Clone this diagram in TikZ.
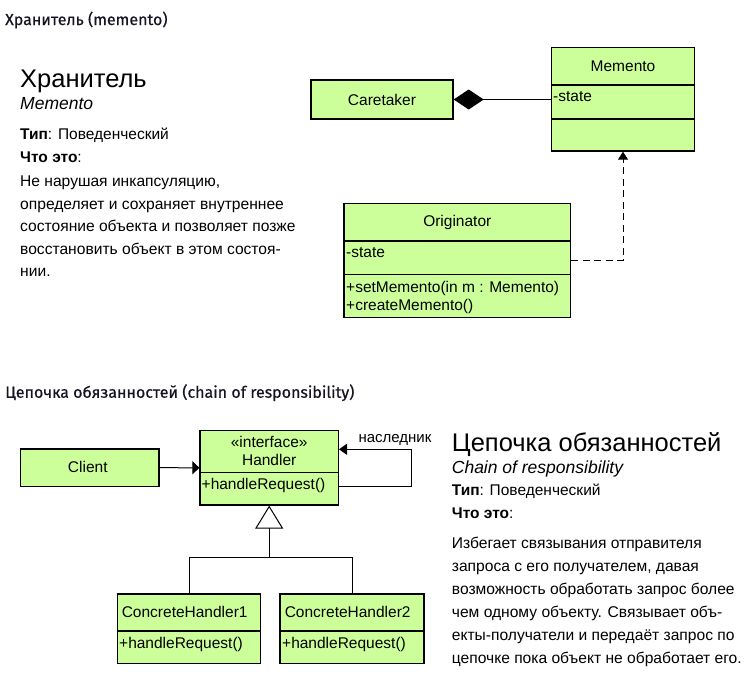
\documentclass[tikz,border=0pt]{standalone}
\usepackage{fontspec}
\setmainfont{Liberation Sans}
\newfontfamily\headfont[FakeBold=0.5]{Fira Sans}
\usetikzlibrary{arrows.meta}
\definecolor{umlgreen}{RGB}{204,255,153}
\definecolor{headink}{RGB}{20,20,35}

\begin{document}
\begin{tikzpicture}[x=1pt,y=-1pt,
		box/.style={draw=black,fill=umlgreen,line width=1.3pt,inner sep=0pt},
		divider/.style={line width=1.3pt},
		umltext/.style={font=\fontsize{15.5}{18}\selectfont,inner sep=0pt},
		heading/.style={font=\headfont\fontsize{16}{19}\selectfont,text=headink,anchor=west,inner sep=0pt},
		bigtitle/.style={font=\fontsize{25.5}{30}\selectfont,anchor=base west,inner sep=0pt},
		subtitle/.style={font=\itshape\fontsize{17.5}{21}\selectfont,anchor=base west,inner sep=0pt},
		bodytext/.style={anchor=base west,inner sep=0pt,align=left},
		link/.style={line width=1pt}]
		\useasboundingbox (0,0) rectangle (748,688);

		% Memento section
		\node[heading] (hmem) at (5,20) {Хранитель (memento)};
		\node[bigtitle] (tmem) at (20,87.3) {Хранитель};
		\node[subtitle] (smem) at (20,109.3) {Memento};
		\node[bodytext,font=\fontsize{15.5}{18}\selectfont] (kmem) at (20,139.5) {\textbf{Тип}: Поведенческий};
		\node[bodytext,font=\fontsize{15.5}{18}\selectfont] (qmem) at (20,162.5) {\textbf{Что это}:};
		% base of a multi-line node sits on its last line
		\node[bodytext,font=\fontsize{15.6}{22.6}\selectfont] (dmem) at (20,276.9) {Не нарушая инкапсуляцию,\\
				определяет и сохраняет внутреннее\\
				состояние объекта и позволяет позже\\
				восстановить объект в этом состоя-\\
				нии.};

		\node[box,minimum width=142,minimum height=39] (care) at (382,99.5) {};
		\node[box,minimum width=142.6,minimum height=103.7] (mem) at (623,99.2) {};
		\node[box,minimum width=226.7,minimum height=114] (ori) at (457.3,260.3) {};
		\draw[divider] (mem.west |- 0,85) -- (mem.east |- 0,85);
		\draw[divider] (mem.west |- 0,119) -- (mem.east |- 0,119);
		\draw[divider] (ori.west |- 0,241) -- (ori.east |- 0,241);
		\draw[divider] (ori.west |- 0,274.3) -- (ori.east |- 0,274.3);

		\node[umltext] at (care.center) {Caretaker};
		\node[umltext] at (623,66) {Memento};
		\node[umltext,anchor=base west] at (553,101.8) {-state};
		\node[umltext] at (457.3,222.7) {Originator};
		\node[umltext,anchor=base west] at (346,257.2) {-state};
		\node[umltext,anchor=base west] at (346,292) {+setMemento(in m : Memento)};
		\node[umltext,anchor=base west] at (346,310) {+createMemento()};

		% Draw links for memento
		\draw[link,{Diamond[length=30pt,width=20pt]}-] (care.east) -- (care.east -| mem.west);
		\draw[link,dash pattern=on 7pt off 4.5pt,-{Triangle[length=8pt,width=10pt]}] (ori.east) -| (mem.south);

		% Chain of responsibility section
		\node[heading] (hchn) at (5,392.7) {Цепочка обязанностей (chain of responsibility)};
		\node[bigtitle] (tchn) at (451.7,451.7) {Цепочка обязанностей};
		\node[subtitle] (schn) at (451.7,473) {Chain of responsibility};
		\node[bodytext,font=\fontsize{15.5}{18}\selectfont] (kchn) at (451.7,495.5) {\textbf{Тип}: Поведенческий};
		\node[bodytext,font=\fontsize{15.5}{18}\selectfont] (qchn) at (451.7,518.8) {\textbf{Что это}:};
		\node[bodytext,font=\fontsize{15.6}{23.1}\selectfont] (dchn) at (451.7,663.5) {Избегает связывания отправителя\\
				запроса с его получателем, давая\\
				возможность обработать запрос более\\
				чем одному объекту. Связывает объ-\\
				екты-получатели и передаёт запрос по\\
				цепочке пока объект не обработает его.};

		\node[box,minimum width=138.3,minimum height=37.3] (cli) at (89.8,467.7) {};
		\node[box,minimum width=138.3,minimum height=74.3] (hnd) at (269.2,467.8) {};
		\node[box,minimum width=143.4,minimum height=69.3] (ch1) at (189,628.7) {};
		\node[box,minimum width=144,minimum height=69.3] (ch2) at (352,628.7) {};
		\draw[divider] (hnd.west |- 0,472.7) -- (hnd.east |- 0,472.7);
		\draw[divider] (ch1.west |- 0,631) -- (ch1.east |- 0,631);
		\draw[divider] (ch2.west |- 0,631) -- (ch2.east |- 0,631);

		\node[umltext] at (87.8,467.3) {Client};
		\node[umltext,anchor=base] at (269.2,447.5) {«interface»};
		\node[umltext,anchor=base] at (269.2,465.5) {Handler};
		\node[umltext,anchor=base west] at (201.5,489.5) {+handleRequest()};
		\node[umltext,anchor=base] at (184.7,617.8) {ConcreteHandler1};
		\node[umltext,anchor=base west] at (119,648) {+handleRequest()};
		\node[umltext,anchor=base] at (347.7,617.8) {ConcreteHandler2};
		\node[umltext,anchor=base west] at (282,648) {+handleRequest()};
		\node[umltext,font=\fontsize{15}{18}\selectfont] (succ) at (395,440) {наследник};

		% Draw links for chain
		\coordinate (jn) at (269.2,557.7);
		\draw[link,-{Triangle[length=7pt,width=13pt]}] (cli.east) -- (hnd.west);
		\draw[link,-{Triangle[length=8pt,width=11pt]}] ([yshift=-18.2pt]hnd.east) -- ++(72,0) |- ([yshift=18.5pt]hnd.east);
		\draw[link,-{Triangle[open,length=23pt,width=28pt]}] (jn) -- (hnd.south);
		\draw[link] (ch1.north) |- (jn) -| (ch2.north);

	\end{tikzpicture}
\end{document}
